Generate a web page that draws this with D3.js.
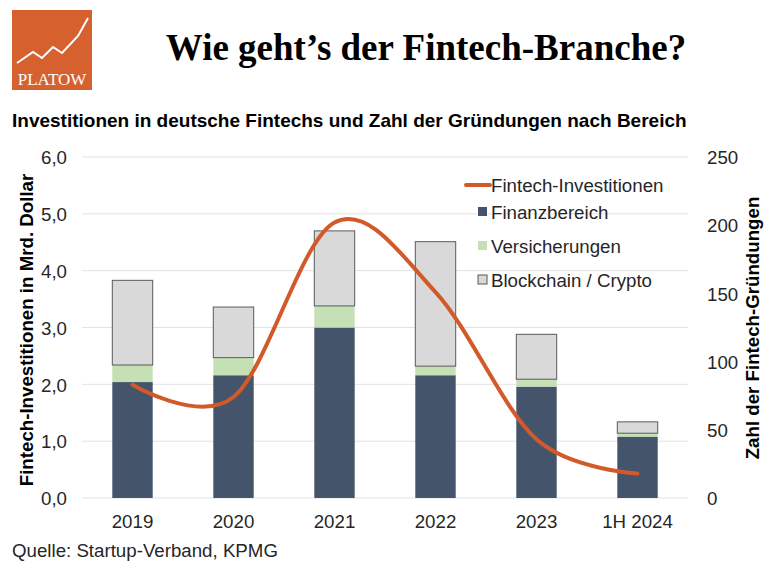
<!DOCTYPE html>
<html>
<head>
<meta charset="utf-8">
<script src="https://cdn.jsdelivr.net/npm/d3@7"></script>
<style>
  body { margin: 0; background: #fff; }
  svg { display: block; }
</style>
</head>
<body>
<svg id="chart" width="768" height="574"></svg>
<script>
// chart data
var years = ["2019", "2020", "2021", "2022", "2023", "1H 2024"];
var finanz = [2.04, 2.16, 3.00, 2.16, 1.96, 1.08];
var versicherung = [0.30, 0.31, 0.38, 0.16, 0.13, 0.06];
var blockchain = [1.49, 0.89, 1.32, 2.19, 0.79, 0.20];
var investLine = [83, 74, 202, 151, 43, 18];
var leftTicks = [0, 1, 2, 3, 4, 5, 6];
var rightTicks = [0, 50, 100, 150, 200, 250];
var seriesNames = ["Finanzbereich", "Versicherungen", "Blockchain / Crypto"];

var svg = d3.select("#chart");
var font = "'Liberation Sans', Arial, sans-serif";
var fs = "18.7px";

var plotLeft = 82, plotRight = 688, plotTop = 157, plotBottom = 498;

var x = d3.scaleBand().domain(years).range([plotLeft, plotRight]).paddingInner(0.6).paddingOuter(0.3);
var yL = d3.scaleLinear().domain([0, 6]).range([plotBottom, plotTop]);
var yR = d3.scaleLinear().domain([0, 250]).range([plotBottom, plotTop]);

var colors = {
  "Finanzbereich": "#44546a",
  "Versicherungen": "#c5e0b4",
  "Blockchain / Crypto": "#d9d9d9"
};

// logo
var logo = svg.append("g");
logo.append("rect").attr("x", 12).attr("y", 10).attr("width", 80).attr("height", 80).attr("fill", "#d6612f");
logo.append("path")
  .attr("d", "M17,63 L33,52 L42,58 L53,47 L62,53 L78,36 L88,18")
  .attr("fill", "none").attr("stroke", "#fff").attr("stroke-width", 2);
logo.append("text").attr("x", 52).attr("y", 85).attr("text-anchor", "middle")
  .style("font-family", "'Liberation Serif', 'Times New Roman', serif")
  .style("font-size", "17px").attr("fill", "#fff").text("PLATOW");

// title
svg.append("text").attr("x", 426).attr("y", 60).attr("text-anchor", "middle")
  .style("font-family", "'Liberation Serif', 'Times New Roman', serif")
  .style("font-weight", "bold").style("font-size", "37px").attr("fill", "#000")
  .text("Wie geht’s der Fintech-Branche?");

svg.append("text").attr("x", 12).attr("y", 127)
  .style("font-family", font).style("font-weight", "bold").style("font-size", "19px")
  .text("Investitionen in deutsche Fintechs und Zahl der Gründungen nach Bereich");

// gridlines
svg.append("g").selectAll("line").data(leftTicks).enter().append("line")
  .attr("x1", plotLeft).attr("x2", plotRight)
  .attr("y1", function(d) { return yL(d); }).attr("y2", function(d) { return yL(d); })
  .attr("stroke", "#e3e3e3").attr("stroke-width", 1);

// axes
var axisL = svg.append("g").attr("transform", "translate(" + (plotLeft - 12) + ",0)")
  .call(d3.axisLeft(yL).tickValues(leftTicks).tickSize(0).tickFormat(function(d) { return d3.format(".1f")(d).replace(".", ","); }));
var axisR = svg.append("g").attr("transform", "translate(" + (plotRight + 16) + ",0)")
  .call(d3.axisRight(yR).tickValues(rightTicks).tickSize(0));
var axisX = svg.append("g").attr("transform", "translate(0," + plotBottom + ")")
  .call(d3.axisBottom(x).tickSize(0).tickPadding(17));
[axisL, axisR, axisX].forEach(function(a) {
  a.select(".domain").remove();
  a.selectAll("text").style("font-family", font).style("font-size", fs).attr("fill", "#262626");
});
axisL.selectAll("text").attr("dy", "0.36em");
axisR.selectAll("text").attr("dx", "0").attr("dy", "0.36em");

// stacked bars
var rows = years.map(function(y, i) {
  return { year: y, "Finanzbereich": finanz[i], "Versicherungen": versicherung[i], "Blockchain / Crypto": blockchain[i] };
});
var stack = d3.stack().keys(seriesNames)(rows);

svg.append("g").selectAll("g").data(stack).enter().append("g")
  .attr("fill", function(d) { return colors[d.key]; })
  .each(function(s) {
    d3.select(this).selectAll("rect").data(s).enter().append("rect")
      .attr("x", function(d) { return x(d.data.year); })
      .attr("width", x.bandwidth())
      .attr("y", function(d) { return yL(d[1]); })
      .attr("height", function(d) { return yL(d[0]) - yL(d[1]); })
      .attr("stroke", s.key === "Blockchain / Crypto" ? "#595959" : "none")
      .attr("stroke-width", 1);
  });

// smoothed line
var line = d3.line()
  .x(function(d, i) { return x(years[i]) + x.bandwidth() / 2; })
  .y(function(d) { return yR(d); })
  .curve(d3.curveCardinal.tension(0));
svg.append("path").datum(investLine).attr("d", line)
  .attr("fill", "none").attr("stroke", "#d25a2a").attr("stroke-width", 4).attr("stroke-linecap", "round");

// axis titles
svg.append("text").attr("transform", "translate(33,330) rotate(-90)").attr("text-anchor", "middle")
  .style("font-family", font).style("font-weight", "bold").style("font-size", fs)
  .text("Fintech-Investitionen in Mrd. Dollar");
svg.append("text").attr("transform", "translate(759,328) rotate(-90)").attr("text-anchor", "middle")
  .style("font-family", font).style("font-weight", "bold").style("font-size", fs)
  .text("Zahl der Fintech-Gründungen");

// legend
var legend = svg.append("g").style("font-family", font).style("font-size", fs);
legend.append("line").attr("x1", 466).attr("x2", 490).attr("y1", 185).attr("y2", 185)
  .attr("stroke", "#d25a2a").attr("stroke-width", 4).attr("stroke-linecap", "round");
legend.append("text").attr("x", 491).attr("y", 192).attr("fill", "#262626").text("Fintech-Investitionen");
seriesNames.forEach(function(name, i) {
  var yy = 212 + i * 34;
  legend.append("rect").attr("x", 478).attr("y", yy - 5).attr("width", 9).attr("height", 9)
    .attr("fill", colors[name]).attr("stroke", name === "Blockchain / Crypto" ? "#595959" : "none");
  legend.append("text").attr("x", 491).attr("y", yy + 7).attr("fill", "#262626").text(name);
});

// source
svg.append("text").attr("x", 12).attr("y", 557)
  .style("font-family", font).style("font-size", fs).attr("fill", "#262626")
  .text("Quelle: Startup-Verband, KPMG");
</script>
</body>
</html>
